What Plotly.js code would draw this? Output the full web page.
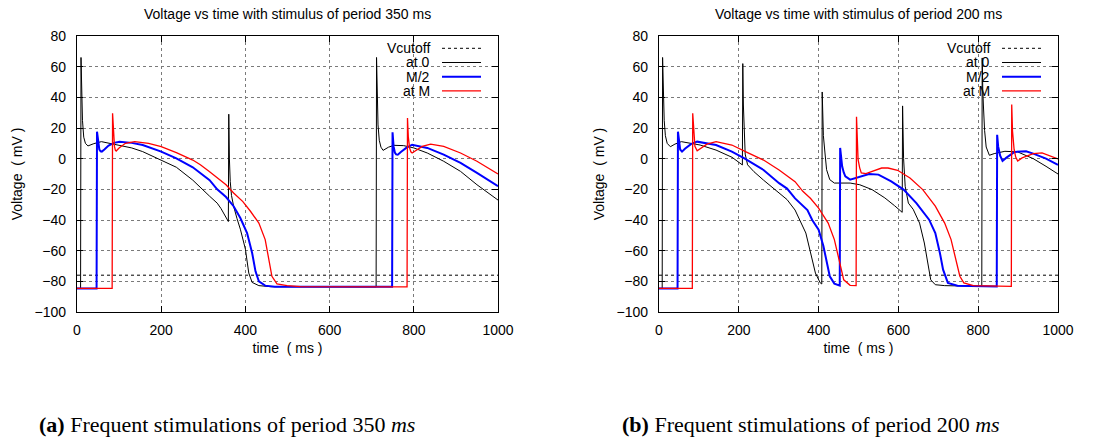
<!DOCTYPE html>
<html>
<head>
<meta charset="utf-8">
<script src="https://cdn.plot.ly/plotly-3.0.1.min.js"></script>
<style>
html, body { margin: 0; padding: 0; background: #ffffff; }
#chart { width: 1112px; height: 441px; }
</style>
</head>
<body>
<div id="chart"></div>
<script>
// ---------------- data ----------------
const vCutoff = -76;
const timeRange = [0, 1000];
const voltRange = [-100, 80];
const xTickVals = [0, 200, 400, 600, 800, 1000];
const yTickVals = [-100, -80, -60, -40, -20, 0, 20, 40, 60, 80];
const seriesNames = ['Vcutoff', 'at 0', 'M/2', 'at M'];
const panelTitles = ['Voltage vs time with stimulus of period 350 ms',
                     'Voltage vs time with stimulus of period 200 ms'];
const captionLabels = ['(a)', '(b)'];
const captionTexts = ['Frequent stimulations of period 350', 'Frequent stimulations of period 200'];
const captionUnit = 'ms';
const xTitle = 'time\u00a0 ( ms )';
const yTitle = 'Voltage\u00a0 ( mV )';

// period 350 ms — "at 0"
const p350_at0_t = [0, 8.5, 9.5, 11, 13, 16, 20, 26, 40, 58, 93, 130, 156, 200, 236, 275, 293, 315, 333, 342, 359.5, 360.5, 362, 364, 367, 372, 380, 388, 400, 408, 416, 432, 460, 710.5, 711.5, 713, 715, 718, 722, 727, 740, 753, 776, 800, 832, 871, 911, 950, 990, 1000];
const p350_at0_v = [-84.6, -84.6, 66, 45, 25, 14, 10, 8.3, 9.8, 11.1, 9.3, 7, 4.6, -0.9, -5.6, -14, -19, -24.5, -29, -32.5, -41, 29, 0, -15, -24, -31, -39, -46, -59, -74.6, -80.7, -82.8, -83.5, -83.6, 66, 40, 22, 12, 7.5, 5.4, 7.5, 8.7, 8.5, 7, 3.7, -1.7, -8.3, -17, -24.6, -27];
// period 350 ms — "M/2"
const p350_m2_t = [0, 46.5, 47.5, 50, 53, 56, 59, 65, 75, 88, 101, 130, 156, 200, 236, 275, 293, 315, 333, 354, 372, 388, 404, 416, 424, 432, 447, 470, 748.5, 749.5, 752, 755, 758, 762, 770, 782, 796, 832, 871, 911, 950, 1000];
const p350_m2_v = [-84.6, -84.6, 17.6, 10, 6, 4.8, 4.6, 6, 8.5, 10.3, 11.1, 10.3, 8.9, 4.6, 0.2, -5.6, -9.5, -14, -20, -25, -31, -38.7, -48.5, -61.5, -73.5, -80, -82.8, -83.5, -83.6, 17.2, 8, 4, 2.8, 2.6, 4.5, 7, 9.1, 7, 2.6, -2.8, -9.3, -18];
// period 350 ms — "at M"
const p350_m_t = [0, 83.5, 84.5, 86.5, 89, 91, 93, 100, 115, 137, 170, 200, 236, 275, 293, 315, 333, 354, 372, 394, 412, 432, 447, 455, 463, 475, 499, 530, 784, 785, 787, 790, 793, 796, 805, 820, 840, 871, 911, 950, 1000];
const p350_m_v = [-84.6, -84.6, 29.6, 16, 8, 5.5, 5, 7, 10, 11.1, 10, 7.8, 3.9, -0.9, -4, -8.5, -12.6, -17, -22.4, -28, -34.3, -42, -52.8, -64.8, -76.7, -81.7, -82.8, -83.5, -83.6, 26.5, 14, 7, 4.5, 3.7, 5.5, 8, 9.5, 8, 3.7, -1.7, -10];

// period 200 ms — "at 0"
const p200_at0_t = [0, 8, 9, 10.5, 13, 16, 20.5, 28.5, 40, 56, 103, 143, 183, 209, 210, 211.5, 213.5, 216, 222, 238, 262, 301, 321, 341, 352.6, 368, 380, 392, 404, 408, 409, 410, 412, 416, 420, 428, 439.5, 479, 503, 534, 566, 590, 609.5, 610.5, 613, 617, 625, 637, 653, 665, 673, 681, 692.5, 716, 809, 810, 811.5, 813, 816, 820, 828, 840, 867, 899, 938, 970, 1000];
const p200_at0_v = [-84.6, -84.6, 66, 45, 25, 15, 10, 7.8, 9.5, 11.1, 8.9, 5.6, 0.9, -4.1, 62, 35, 15, 3, -4, -8.5, -14, -22.6, -26.7, -33.5, -39.8, -48.5, -61.5, -74.6, -81, -81.7, 43.5, 30, 15, 3.7, -7.2, -13.7, -15.9, -15.9, -17, -20.2, -25.6, -30.6, -35, 34.4, 0, -18, -29, -33, -42, -55, -68, -79, -82.2, -82.8, -83.3, 65.7, 45, 35, 18.5, 7.6, 2.2, 3.3, 4.8, 4.4, 0, -5, -10];
// period 200 ms — "M/2"
const p200_m2_t = [0, 46.5, 47.5, 50, 53, 57.7, 65, 80, 95.6, 143, 182.6, 214, 262, 301, 321, 341, 352.6, 372, 384, 400, 412, 420, 428, 439.5, 451, 453, 454, 456, 459, 463, 467, 479, 495, 526.5, 550, 582, 613, 645, 677, 692.5, 704, 712, 724, 748, 846.5, 847.5, 850, 855, 861, 870, 891, 920, 938, 970, 1000];
const p200_m2_v = [-84.6, -84.6, 17.6, 10, 6, 4.6, 6.5, 9.5, 11.1, 8.9, 4.6, 0.2, -7.4, -16, -19.5, -25.9, -29, -33.5, -40, -46.3, -57, -68, -76.7, -81.5, -82.6, -82.8, 7, 2, -5, -9, -11.5, -13.7, -12.6, -10, -10.4, -14.8, -20.2, -29, -39.8, -48.5, -61.5, -72.4, -81, -82.8, -83.3, 15.6, 8, 2, -1.5, 0.5, 4.4, 4.8, 3.3, 0, -4];
// period 200 ms — "at M"
const p200_m_t = [0, 83.5, 84.5, 87, 90, 95.6, 105, 120, 143, 182.6, 222, 262, 301, 321, 341, 360.5, 380, 400, 424, 439.5, 451, 463, 479, 494, 495, 497, 499, 503, 507, 518.6, 534, 558, 574, 598, 629, 661, 692.5, 716, 732, 744, 754, 764, 788, 883, 884, 886, 890, 894, 899, 910, 938, 960, 980, 1000];
const p200_m_v = [-84.6, -84.6, 29.6, 15, 8, 5.2, 7, 9.5, 11.1, 8.9, 3.9, -0.9, -7.4, -11.5, -15, -21.3, -26, -32.2, -42, -52.8, -65.9, -79, -82.6, -82.8, 27.4, 10, -0.7, -6, -9.3, -9.8, -8.3, -6.1, -6.1, -7.6, -12.6, -20.2, -31, -42, -52.8, -65.9, -76.7, -81, -82.8, -83.3, 35.3, 18, 6, 1, -1.5, 0.5, 3.3, 3.8, 2, -0.2];

// ---------------- styling / geometry ----------------
const W = 1112, H = 441;
const SANS = '"Liberation Sans", Arial, Helvetica, sans-serif';
const SERIF = '"Liberation Serif", "Times New Roman", serif';
const plotTopPx = 36, plotBottomPx = 312;
const panelPx = [{ left: 77, right: 498, capLeft: 37 }, { left: 659, right: 1058, capLeft: 620 }];
const styles = [
  { color: '#000000', width: 1, dash: '3px,3px' },
  { color: '#000000', width: 1 },
  { color: '#0000ff', width: 2 },
  { color: '#ff0000', width: 1.3 }
];
const panelSeries = [
  [[p350_at0_t, p350_at0_v], [p350_m2_t, p350_m2_v], [p350_m_t, p350_m_v]],
  [[p200_at0_t, p200_at0_v], [p200_m2_t, p200_m2_v], [p200_m_t, p200_m_v]]
];

const traces = [];
const layout = {
  width: W, height: H,
  margin: { l: 0, r: 0, t: 0, b: 0 },
  paper_bgcolor: '#ffffff', plot_bgcolor: '#ffffff',
  showlegend: false,
  font: { family: SANS, color: '#000000', size: 14 },
  annotations: [], shapes: []
};

const yDom = [1 - plotBottomPx / H, 1 - plotTopPx / H];

panelPx.forEach((p, i) => {
  const xa = i === 0 ? 'x' : 'x2';
  const ya = i === 0 ? 'y' : 'y2';
  const xKey = i === 0 ? 'xaxis' : 'xaxis2';
  const yKey = i === 0 ? 'yaxis' : 'yaxis2';
  const common = {
    ticks: 'inside', ticklen: 6, tickwidth: 1, tickcolor: '#000000',
    mirror: 'ticks', showline: true, linecolor: '#000000', linewidth: 1.2,
    showgrid: true, gridcolor: '#7a7a7a', griddash: 'dot', gridwidth: 1,
    zeroline: false, fixedrange: true,
    tickfont: { family: SANS, size: 14, color: '#000000' }
  };
  layout[xKey] = Object.assign({}, common, {
    domain: [p.left / W, p.right / W], anchor: ya, range: timeRange,
    tickmode: 'array', tickvals: xTickVals, ticklabelstandoff: 5,
    title: { text: xTitle, font: { family: SANS, size: 14, color: '#000000' }, standoff: 6 }
  });
  layout[yKey] = Object.assign({}, common, {
    domain: yDom, anchor: xa, range: voltRange,
    tickmode: 'array', tickvals: yTickVals, ticklabelstandoff: 7,
    title: { text: yTitle, font: { family: SANS, size: 14, color: '#000000' }, standoff: 8 }
  });

  // Vcutoff
  traces.push({
    x: timeRange, y: [vCutoff, vCutoff], xaxis: xa, yaxis: ya, mode: 'lines',
    name: seriesNames[0], line: styles[0], hoverinfo: 'skip'
  });
  panelSeries[i].forEach((s, k) => {
    traces.push({
      x: s[0], y: s[1], xaxis: xa, yaxis: ya, mode: 'lines',
      name: seriesNames[k + 1], line: styles[k + 1], hoverinfo: 'skip'
    });
  });

  // panel title
  layout.annotations.push({
    xref: 'paper', yref: 'paper', x: (p.left + p.right) / 2 / W, y: 1 - 14 / H,
    xanchor: 'center', yanchor: 'middle', showarrow: false,
    text: panelTitles[i], font: { family: SANS, size: 14, color: '#000000' }
  });

  // key (legend) box, gnuplot-style: right-aligned labels, samples on the right
  const textRight = p.right - 66, sampleL = p.right - 56, sampleR = p.right - 17;
  layout.shapes.push({
    type: 'rect', xref: 'paper', yref: 'paper', layer: 'between',
    x0: (textRight - 66) / W, x1: (p.right - 1) / W,
    y0: 1 - 99 / H, y1: 1 - (plotTopPx + 1) / H,
    fillcolor: '#ffffff', line: { width: 0 }
  });
  seriesNames.forEach((nm, k) => {
    const rowY = 48.3 + k * 14.2;
    layout.annotations.push({
      xref: 'paper', yref: 'paper', x: textRight / W, y: 1 - rowY / H,
      xanchor: 'right', yanchor: 'middle', showarrow: false,
      text: nm, font: { family: SANS, size: 14, color: '#000000' }
    });
    layout.shapes.push({
      type: 'line', xref: 'paper', yref: 'paper', layer: 'above',
      x0: sampleL / W, x1: sampleR / W, y0: 1 - rowY / H, y1: 1 - rowY / H,
      line: styles[k]
    });
  });

  // caption
  layout.annotations.push({
    xref: 'paper', yref: 'paper', x: p.capLeft / W, y: 1 - 424 / H,
    xanchor: 'left', yanchor: 'middle', showarrow: false,
    text: '<b>' + captionLabels[i] + '</b> ' + captionTexts[i] + ' <i>' + captionUnit + '</i>',
    font: { family: SERIF, size: 22, color: '#000000' }
  });
});

Plotly.newPlot('chart', traces, layout, { displayModeBar: false, staticPlot: true });
</script>
</body>
</html>
